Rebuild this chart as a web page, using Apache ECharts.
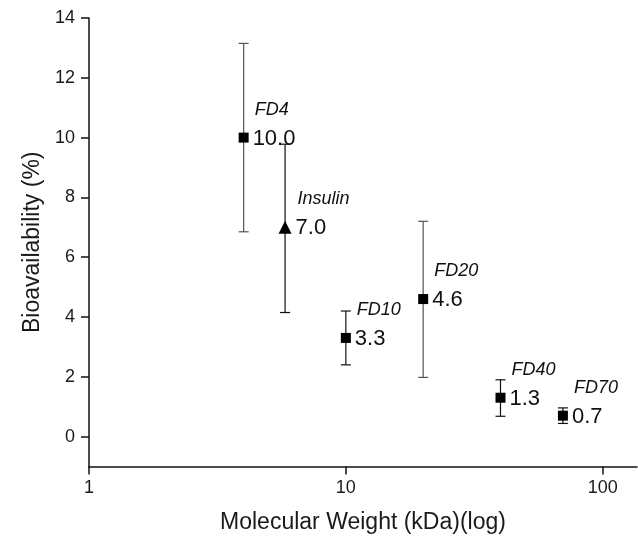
<!DOCTYPE html>
<html>
<head>
<meta charset="utf-8">
<script src="https://cdn.jsdelivr.net/npm/echarts@6/dist/echarts.min.js"></script>
<style>html,body{margin:0;padding:0;background:#fff}#c{width:638px;height:538px}</style>
</head>
<body>
<div id="c"></div>
<script>
const names = ['FD4', 'Insulin', 'FD10', 'FD20', 'FD40', 'FD70'];
const molWeight = [4, 5.8, 10, 20, 40, 70];
const bioavail = [10.0, 7.0, 3.3, 4.6, 1.3, 0.7];
const errLow = [6.85, 4.15, 2.4, 1.98, 0.68, 0.44];
const errHigh = [13.15, 9.78, 4.2, 7.2, 1.9, 0.96];
const xTicks = [1, 10, 100];
const yTicks = [0, 2, 4, 6, 8, 10, 12, 14];

const grayBars = new Set(['FD4', 'FD20']);
const font = 'Liberation Sans, Arial, sans-serif';

const chart = echarts.init(document.getElementById('c'));

const scatterData = names.map((n, i) => ({
  value: [molWeight[i], bioavail[i]],
  name: n,
  symbol: n === 'Insulin' ? 'triangle' : 'rect',
  symbolSize: n === 'Insulin' ? 13 : 10
}));

const errData = names.map((n, i) => [molWeight[i], errLow[i], errHigh[i], i]);

chart.setOption({
  animation: false,
  grid: { left: 89, right: 1, top: 18, bottom: 71.5, outerBoundsMode: 'none', containLabel: false },
  xAxis: {
    type: 'log', logBase: 10, min: 1, max: 136,
    name: 'Molecular Weight (kDa)(log)', nameLocation: 'middle', nameGap: 45,
    nameTextStyle: { fontSize: 23, color: '#1a1a1a', fontFamily: font },
    axisLine: { onZero: false, lineStyle: { color: '#111', width: 1.5 } },
    axisTick: { show: true, inside: false, length: 8, lineStyle: { color: '#111', width: 1.5 }, customValues: xTicks },
    axisLabel: { fontSize: 18, color: '#1a1a1a', fontFamily: font, margin: 13, customValues: xTicks, formatter: v => String(v) },
    splitLine: { show: false }, minorTick: { show: false }
  },
  yAxis: {
    type: 'value', min: -1, max: 14,
    name: 'Bioavailability (%)', nameLocation: 'middle', nameGap: 40,
    nameTextStyle: { fontSize: 23, color: '#1a1a1a', fontFamily: font },
    axisLine: { show: true, onZero: false, lineStyle: { color: '#111', width: 1.5 } },
    axisTick: { show: true, inside: false, length: 8, lineStyle: { color: '#111', width: 1.5 }, customValues: yTicks },
    axisLabel: { fontSize: 18, color: '#1a1a1a', fontFamily: font, margin: 14, customValues: yTicks },
    splitLine: { show: false }
  },
  series: [
    {
      type: 'custom',
      data: errData,
      z: 1,
      renderItem: function (params, api) {
        const x = api.value(0);
        const lo = api.coord([x, api.value(1)]);
        const hi = api.coord([x, api.value(2)]);
        const idx = api.value(3);
        const col = grayBars.has(names[idx]) ? '#555' : '#111';
        const w = 5;
        const st = { stroke: col, lineWidth: 1.2 };
        return {
          type: 'group',
          children: [
            { type: 'line', shape: { x1: lo[0], y1: lo[1], x2: hi[0], y2: hi[1] }, style: st },
            { type: 'line', shape: { x1: lo[0] - w, y1: lo[1], x2: lo[0] + w, y2: lo[1] }, style: st },
            { type: 'line', shape: { x1: hi[0] - w, y1: hi[1], x2: hi[0] + w, y2: hi[1] }, style: st }
          ]
        };
      }
    },
    {
      type: 'scatter',
      data: scatterData,
      z: 3,
      itemStyle: { color: '#000', opacity: 1 },
      label: {
        show: true,
        position: 'right',
        distance: 4,
        offset: [0, -15],
        formatter: p => '{n|' + p.name + '}\n{v|' + bioavail[p.dataIndex].toFixed(1) + '}',
        rich: {
          n: { fontSize: 18, fontStyle: 'italic', color: '#111', fontFamily: font, lineHeight: 32, padding: [0, 0, 0, 2] },
          v: { fontSize: 22, color: '#111', fontFamily: font, lineHeight: 26 }
        }
      }
    }
  ]
});
</script>
</body>
</html>
